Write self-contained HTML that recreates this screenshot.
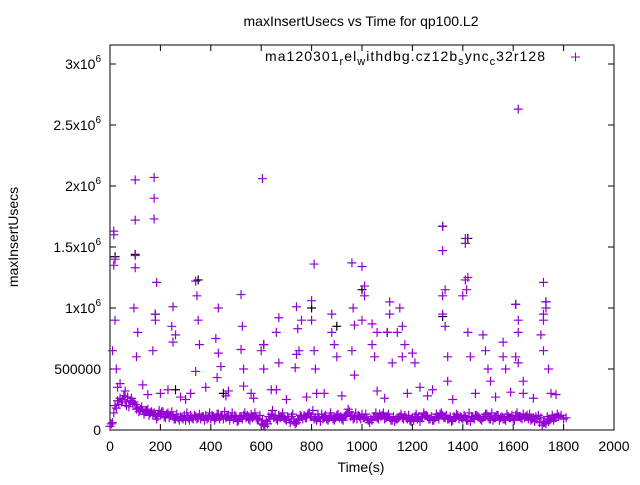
<!DOCTYPE html>
<html><head><meta charset="utf-8"><style>
body{margin:0;background:#fff;font-family:"Liberation Sans",sans-serif}
svg text{font-family:"Liberation Sans",sans-serif;font-size:14px;fill:#000}
</style></head><body>
<svg id="c" width="640" height="480">
<text x="361" y="26" text-anchor="middle">maxInsertUsecs vs Time for qp100.L2</text>
<text transform="translate(18,237) rotate(-90)" text-anchor="middle">maxInsertUsecs</text>
<text x="361" y="472" text-anchor="middle">Time(s)</text>
<rect x="110" y="45" width="504" height="385" fill="none" stroke="#000" stroke-width="1"/>
<g id="ticks"></g>
<g id="marks"></g>
<g>
<text x="265" y="61" textLength="280" lengthAdjust="spacing">ma120301<tspan font-size="11" dy="4">r</tspan><tspan dy="-4">el</tspan><tspan font-size="11" dy="4">w</tspan><tspan dy="-4">ithdbg.cz12b</tspan><tspan font-size="11" dy="4">s</tspan><tspan dy="-4">ync</tspan><tspan font-size="11" dy="4">c</tspan><tspan dy="-4">32r128</tspan></text>
<path d="M571 57h9M575.5 52.5v9" stroke="#9400d3" stroke-width="1"/>
</g>
</svg>
<script>
const xTicks=[0,200,400,600,800,1000,1200,1400,1600,1800,2000];
const yTicks=[0,500000,1000000,1500000,2000000,2500000,3000000];
const yTickLabels=["0","500000","1x10^6","1.5x10^6","2x10^6","2.5x10^6","3x10^6"];
const baseTimes=[];for(let t=0;t<=1810;t+=10)baseTimes.push(t);
const baseA=[30,60,200,240,260,250,230,270,240,220,210,180,170,160,150,170,140,130,120,110,130,150,100,140,120,110,90,100,110,90,80,100,120,90,110,100,90,110,120,100,90,110,100,130,110,90,100,120,110,90,100,80,110,120,100,90,130,110,100,90,50,40,70,110,130,100,90,120,110,100,80,90,110,70,60,90,110,120,100,140,110,90,80,100,130,110,90,100,110,80,120,100,90,110,130,150,120,100,90,110,130,100,90,60,80,110,100,130,120,90,110,100,80,70,90,110,100,120,90,80,100,110,90,70,100,120,110,90,80,100,110,130,120,100,90,110,80,100,120,110,90,100,80,70,100,120,110,90,100,130,110,90,80,100,120,100,90,80,110,100,90,120,110,100,130,110,90,80,100,110,120,100,60,50,70,90,80,100,110,120,90,100];
const baseB=[50,140,180,210,230,280,200,190,260,230,170,150,190,130,160,120,150,140,90,160,150,110,130,100,150,90,130,80,100,120,140,80,100,120,90,130,110,80,90,140,120,80,130,90,120,150,110,80,140,120,70,110,90,140,120,80,100,140,90,120,80,30,50,90,160,120,80,100,140,90,110,60,130,50,80,120,90,100,130,110,160,100,130,70,90,120,80,140,90,100,130,110,80,120,170,110,90,140,120,90,100,130,80,90,110,140,90,110,140,100,130,80,110,90,100,130,90,100,120,70,80,130,110,100,140,120,90,110,80,130,90,140,100,120,90,70,110,130,90,100,120,80,140,110,90,120,100,80,110,130,90,140,100,120,80,110,90,130,100,120,80,140,110,90,100,120,130,90,70,90,60,40,60,110,90,120,100,130];
const highT=[15,15,15,20,10,20,25,30,100,100,100,100,95,110,105,175,175,175,185,180,170,180,250,245,250,260,340,345,350,355,340,420,430,440,425,430,520,525,520,530,530,605,600,610,610,670,660,670,660,740,745,750,740,735,760,810,800,800,810,815,820,880,890,880,900,960,965,970,960,970,1000,1010,1010,1000,1040,1040,1060,1050,1100,1110,1110,1120,1140,1150,1160,1170,1160,1200,1210,1230,1320,1320,1330,1320,1320,1330,1340,1340,1410,1410,1420,1410,1415,1400,1420,1430,1480,1490,1500,1510,1560,1560,1570,1610,1620,1620,1620,1610,1620,1640,1640,1720,1730,1730,1720,1720,1710,1720,1740,1750,40,60,130,150,200,230,280,300,320,380,460,470,560,570,640,700,780,850,920,1060,1090,1180,1260,1280,1360,1450,1530,1590,1680,1770];
const highV=[1600,1630,1350,1400,650,900,500,350,2050,1720,1430,1330,1000,800,600,2070,1900,1730,1210,950,650,900,1010,850,720,780,1220,1100,900,700,480,750,630,520,430,1000,1110,850,660,500,360,2060,650,700,500,920,800,550,330,1010,830,650,620,510,900,1360,1060,900,650,500,300,950,700,800,600,1370,1000,860,650,450,1340,1180,1100,900,870,700,800,600,800,1050,950,550,800,1000,850,700,600,630,550,350,1670,1470,1150,1100,950,850,600,400,1570,1530,1250,1230,1150,1100,800,600,780,650,500,400,720,600,500,1030,2630,900,800,600,550,400,300,1210,1050,1000,950,900,780,650,500,300,380,320,370,290,300,330,270,250,300,350,280,320,300,260,330,250,270,300,280,320,260,300,280,330,250,300,270,310,260,290];
const blackT=[20,100,180,350,610,800,1000,1320,1320,1420,1610,1730,900,1100,450,260];
const blackV=[1420,1440,950,1230,700,1000,1150,930,1670,1570,1030,1050,850,800,300,330];
const X=v=>110+v*504/2000, Y=v=>430-v*122/1000000;
const NS="http://www.w3.org/2000/svg";
const tg=document.getElementById('ticks'), mg=document.getElementById('marks');
xTicks.forEach(t=>{
  const p=document.createElementNS(NS,'path');
  p.setAttribute('d',`M${X(t)} 430v-6M${X(t)} 45v6`);p.setAttribute('stroke','#000');
  
  
  tg.appendChild(p);
  const l=document.createElementNS(NS,'text');
  l.setAttribute('x',X(t));l.setAttribute('y',451);l.setAttribute('text-anchor','middle');l.textContent=t;
  
  
  tg.appendChild(l);
});
yTicks.forEach((t,i)=>{
  const p=document.createElementNS(NS,'path');
  p.setAttribute('d',`M110 ${Y(t)}h6M614 ${Y(t)}h-6`);p.setAttribute('stroke','#000');
  
  
  tg.appendChild(p);
  const l=document.createElementNS(NS,'text');
  l.setAttribute('x',101);l.setAttribute('y',Y(t)+5);l.setAttribute('text-anchor','end');
  const s=yTickLabels[i];
  if(s.includes('^')){const [a,b]=s.split('^');l.textContent=a;const sp=document.createElementNS(NS,'tspan');sp.setAttribute('dy',-7);sp.setAttribute('font-size','10');sp.textContent=b;l.appendChild(sp);}
  else l.textContent=s;
  
  
  tg.appendChild(l);
});
function plus(t,v,col){
  const p=document.createElementNS(NS,'path');
  const x=X(t),y=Y(v);
  p.setAttribute('d',`M${x-4.5} ${y}h9M${x} ${y-4.5}v9`);
  p.setAttribute('stroke',col);
  p.setAttribute('stroke-width','1.2');
  
  
  mg.appendChild(p);
}
baseTimes.forEach((t,i)=>{plus(t,baseA[i]*1000,'#9400d3');plus(t+5,baseB[i]*1000,'#9400d3');});
blackT.forEach((t,i)=>plus(t,blackV[i]*1000,'#000'));
highT.forEach((t,i)=>plus(t,highV[i]*1000,'#9400d3'));
</script>
</body></html>
